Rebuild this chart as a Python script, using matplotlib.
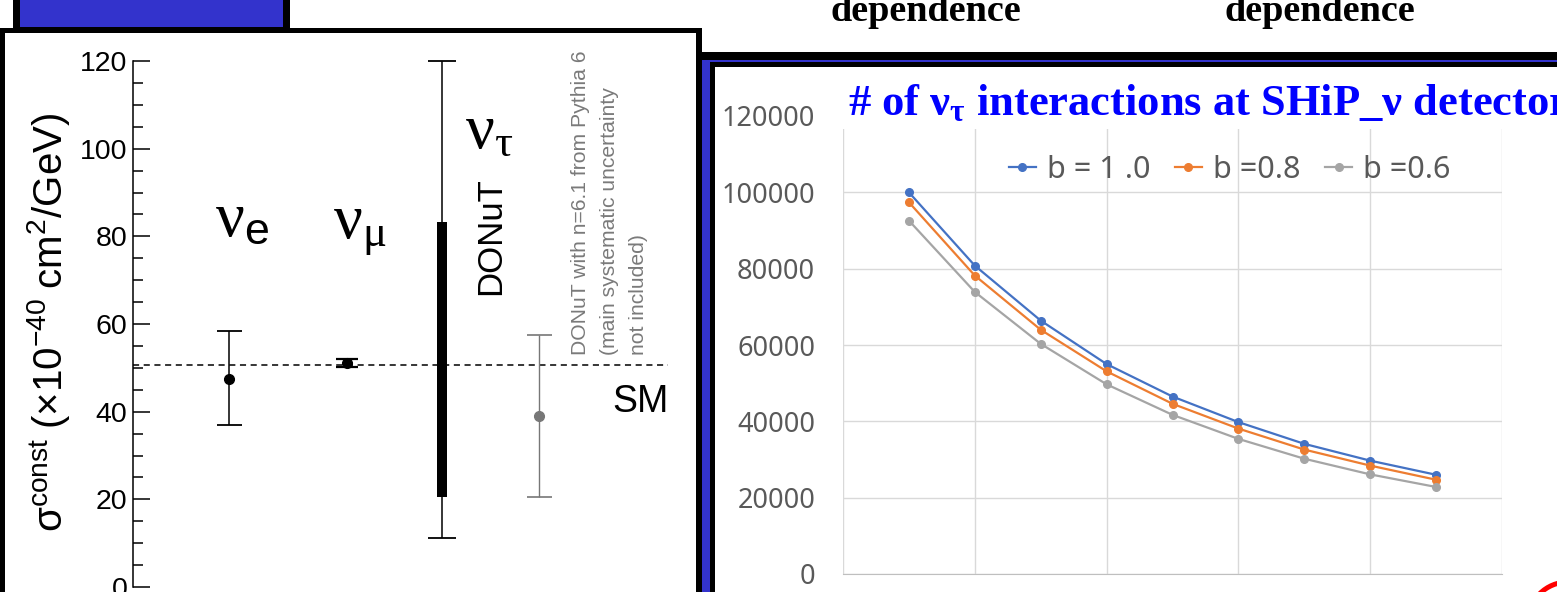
import matplotlib
matplotlib.use('Agg')
import matplotlib.pyplot as plt
from matplotlib.patches import Rectangle, Circle
from matplotlib.ticker import MultipleLocator

plt.rcParams['font.family'] = ['Liberation Sans', 'DejaVu Sans']
plt.rcParams['mathtext.fontset'] = 'custom'
plt.rcParams['mathtext.rm'] = 'Liberation Serif'
plt.rcParams['mathtext.it'] = 'Liberation Serif:italic'
plt.rcParams['mathtext.bf'] = 'Liberation Serif:bold'
plt.rcParams['mathtext.sf'] = 'Liberation Sans'

# ---- left panel: measured constant cross sections (x1e-40 cm2/GeV) ----
meas_pos = [1.0, 2.24]          # nu_e, nu_mu
meas_val = [47.5, 51.2]
meas_lo = [37.0, 50.1]
meas_hi = [58.3, 52.1]
tau_pos = 3.23                  # DONuT nu_tau
tau_inner = [20.6, 83.2]
tau_outer = [11.2, 120.0]
pythia_pos = 4.25               # DONuT with Pythia 6
pythia_val = 39.1
pythia_lo = 20.6
pythia_hi = 57.6
sm_sigma = 50.6

# ---- right panel: number of nu_tau interactions ----
run_x = [1, 2, 3, 4, 5, 6, 7, 8, 9]
b10 = [100000, 80800, 66400, 55000, 46500, 39800, 34100, 29700, 26000]
b08 = [97400, 78200, 64000, 53100, 44600, 38100, 32600, 28400, 24700]
b06 = [92600, 73900, 60300, 49700, 41700, 35400, 30200, 26100, 22800]
series_labels = ['b = 1 .0', 'b =0.8', 'b =0.6']
series_colors = ['#4472C4', '#ED7D31', '#A5A5A5']

W, H = 1557, 592
fig = plt.figure(figsize=(W / 100, H / 100), dpi=100)


def fig_box(x0, y0, x1, y1):
    # pixel box (top-left origin) -> figure fraction
    return [x0 / W, 1 - y1 / H, (x1 - x0) / W, (y1 - y0) / H]


# background "slide" drawn in pixel coordinates
bg = fig.add_axes([0, 0, 1, 1], zorder=0)
bg.set_xlim(0, W)
bg.set_ylim(H, 0)
bg.axis('off')

blue = '#3333CC'
bg.add_patch(Rectangle((13, -5), 277, 33, fc='black', ec='none'))
bg.add_patch(Rectangle((20, -5), 263, 32, fc=blue, ec='none'))
bg.add_patch(Rectangle((0, 28), 702, 600, fc='black', ec='none'))
bg.add_patch(Rectangle((5, 33), 691, 600, fc='white', ec='none'))
bg.add_patch(Rectangle((696, 52), 900, 600, fc='black', ec='none'))
bg.add_patch(Rectangle((702, 59.5), 900, 600, fc=blue, ec='none'))
bg.add_patch(Rectangle((710, 61.5), 900, 600, fc='black', ec='none'))
bg.add_patch(Rectangle((715, 67), 900, 600, fc='white', ec='none'))
bg.add_patch(Circle((1568, 622), 40, fill=False, ec='red', lw=3.6))

for x in [831, 1225]:
    bg.text(x, 21, 'dependence', family='Liberation Serif', weight='bold',
            fontsize=27.5, va='baseline', ha='left')

# flavour labels
bg.text(215, 236, r'$\mathrm{\nu}_{\mathsf{e}}$', fontsize=46, va='baseline')
bg.text(333, 237, r'$\mathrm{\nu}_{\mathrm{\mu}}$', fontsize=46, va='baseline')
bg.text(465, 148, r'$\mathrm{\nu}_{\mathrm{\tau}}$', fontsize=46, va='baseline')
bg.text(500, 295, 'DONuT', fontsize=25, rotation=90, rotation_mode='anchor',
        ha='left', va='baseline')
note = ['DONuT with n=6.1 from Pythia 6', '(main systematic uncertainty',
        'not included)']
for i, line in enumerate(note):
    bg.text(586 + 29 * i, 355, line, fontsize=15.2, color='#7a7a7a',
            rotation=90, rotation_mode='anchor', ha='left', va='baseline')
bg.text(612, 412, 'SM', fontsize=27, va='baseline')

# ---- left chart ----
axL = fig.add_axes(fig_box(133, 61, 668, 587), zorder=1)
axL.set_facecolor('none')
axL.set_xlim(0, 5.6)
axL.set_ylim(0, 120)
for s in ['top', 'right', 'bottom']:
    axL.spines[s].set_visible(False)
axL.spines['left'].set_linewidth(1.1)
axL.set_xticks([])
axL.yaxis.set_major_locator(MultipleLocator(20))
axL.yaxis.set_minor_locator(MultipleLocator(5))
axL.tick_params(axis='y', which='major', direction='in', length=12.5,
                width=1.1, labelsize=20.5, pad=4)
axL.tick_params(axis='y', which='minor', direction='in', length=7, width=1.1)

axL.axhline(sm_sigma, color='black', lw=1.1, ls=(0, (4, 3)))

axL.errorbar(meas_pos[0], meas_val[0],
             yerr=[[meas_val[0] - meas_lo[0]], [meas_hi[0] - meas_val[0]]],
             fmt='o', color='black', ms=7, elinewidth=1.1, capsize=9,
             capthick=1.3)
axL.errorbar(meas_pos[1], meas_val[1],
             yerr=[[meas_val[1] - meas_lo[1]], [meas_hi[1] - meas_val[1]]],
             fmt='o', color='black', ms=7, elinewidth=1.6, capsize=8,
             capthick=1.6)
tau_mid = 0.5 * (tau_inner[0] + tau_inner[1])
axL.errorbar(tau_pos, tau_mid,
             yerr=[[tau_mid - tau_outer[0]], [tau_outer[1] - tau_mid]],
             fmt='none', ecolor='black', elinewidth=1.1, capsize=10,
             capthick=1.3, clip_on=False)
axL.vlines(tau_pos, tau_inner[0], tau_inner[1], color='black', lw=7.2,
           capstyle='butt')
axL.errorbar(pythia_pos, pythia_val,
             yerr=[[pythia_val - pythia_lo], [pythia_hi - pythia_val]],
             fmt='o', color='#777777', ms=7, elinewidth=1.0, capsize=9,
             capthick=1.2)

axL.set_ylabel(r'$\mathsf{\sigma}^{\mathsf{const}}\ \mathsf{(\times 10^{-40}\ cm^{2}/GeV)}$',
               fontsize=29)
axL.yaxis.set_label_coords((72 - 133) / 535, (587 - 322) / 526)

# ---- right chart ----
axR = fig.add_axes(fig_box(843, 116, 1502, 574), zorder=1)
axR.set_facecolor('none')
axR.set_xlim(0, 10)
axR.set_ylim(0, 120000)
axR.set_xticks(range(0, 11, 2))
axR.set_xticklabels([])
axR.yaxis.set_major_locator(MultipleLocator(20000))
axR.grid(True, color='#D9D9D9', lw=1.0)
axR.set_axisbelow(True)
for s in ['top', 'right', 'left']:
    axR.spines[s].set_visible(False)
axR.spines['bottom'].set_color('#BFBFBF')
axR.tick_params(length=0, labelsize=19.5, labelcolor='#595959', pad=20)
for lab in axR.get_yticklabels():
    lab.set_family('Noto Sans')

handles = []
for vals, lab, col in zip([b10, b08, b06], series_labels, series_colors):
    h, = axR.plot(run_x, vals, color=col, lw=1.6, marker='o', ms=5.5,
                  label=lab)
    handles.append(h)

axR.legend(handles=handles, ncol=3, frameon=False, loc='center',
           bbox_to_anchor=(1229.5 / W, 1 - 170 / H),
           bbox_transform=fig.transFigure,
           prop={'family': 'Noto Sans', 'size': 22}, labelcolor='#595959',
           handlelength=0.9, handletextpad=0.35, columnspacing=0.8)

axR.set_title(r'# of $\mathbf{\nu}_{\mathbf{\tau}}$ interactions at SHiP_$\mathbf{\nu}$ detector',
              loc='left', x=(848 - 843) / 659, y=(574 - 115) / 458, pad=0,
              family='Liberation Serif', weight='bold', fontsize=32,
              color='#0000FF',
              bbox=dict(facecolor='white', edgecolor='none', pad=4))

fig.savefig('out.png', dpi=100)
